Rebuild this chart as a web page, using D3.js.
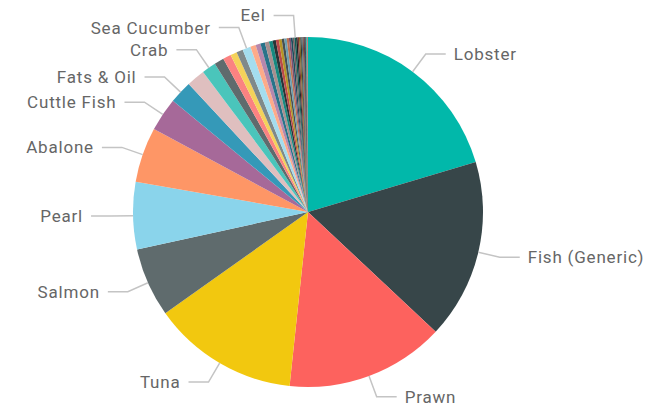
<!DOCTYPE html>
<html lang="en">
  <head>
    <meta charset="UTF-8" />
    <title>Seafood by Category – Pie</title>
    <script src="https://d3js.org/d3.v7.min.js"></script>
    <style>
      body {
        margin: 0;
        background: #fff;
      }
      svg {
        display: block;
      }
      .label {
        font-family: Roboto, sans-serif;
        font-size: 17px;
        letter-spacing: 0.8px;
        fill: #666;
      }
    </style>
  </head>
  <body>
    <svg width="648" height="407"></svg>

    <script>
      // categories in drawing order (clockwise from 12 o'clock); "" = no label shown
      const categories = [
        'Lobster', 'Fish (Generic)', 'Prawn', 'Tuna', 'Salmon', 'Pearl',
        'Abalone', 'Cuttle Fish', 'Fats & Oil', '', 'Crab', '', '', '', '',
        'Sea Cucumber', '', '', '', '', '', '', '', '', '', '', '', '', '', '',
        'Eel', '', '', '', '', '', '', '', '', '', '', '', '',
      ];
      // share of total, %
      const shares = [
        20.4, 16.6, 14.7, 13.5, 6.4, 6.2, 5.1, 3.1, 2.1, 1.7, 1.3, 0.9, 0.75,
        0.6, 0.6, 0.75, 0.5, 0.45, 0.42, 0.38, 0.34, 0.3, 0.28, 0.26, 0.24,
        0.22, 0.2, 0.18, 0.17, 0.16, 0.15, 0.14, 0.13, 0.12, 0.11, 0.1, 0.1,
        0.09, 0.08, 0.07, 0.06, 0.05, 0.04,
      ];
      const palette = [
        '#01B8AA', '#374649', '#FD625E', '#F2C80F', '#5F6B6D', '#8AD4EB',
        '#FE9666', '#A66999', '#3599B8', '#DFBFBF', '#4AC5BB', '#5F6B6D',
        '#FB8281', '#F4D25A', '#7F898A', '#A4DDEE', '#FDAB89', '#B687AC',
        '#28738A', '#A78F8F', '#168980', '#293537', '#BB4A4A', '#B59525',
        '#475052', '#6A9FB0', '#BD7150', '#7B4F71', '#1B4D5C', '#706060',
        '#0F5C55', '#1C2325', '#7D3231', '#796419', '#303637', '#476A75',
        '#7E4B36', '#52354C', '#0D262E', '#544848',
      ];

      const data = categories.map((c, i) => ({ name: c, value: shares[i], i }));

      const cx = 308,
        cy = 212,
        radius = 175;

      const svg = d3.select('svg');
      const g = svg.append('g').attr('transform', `translate(${cx},${cy})`);

      const pie = d3.pie().sort(null).value((d) => d.value);
      const arcs = pie(data);

      const arc = d3.arc().innerRadius(0).outerRadius(radius);
      const edge = d3.arc().innerRadius(radius).outerRadius(radius);
      const elbow = d3.arc().innerRadius(197).outerRadius(197);

      const color = d3
        .scaleOrdinal()
        .domain(d3.range(data.length))
        .range(palette);

      g.selectAll('path.slice')
        .data(arcs)
        .join('path')
        .attr('class', 'slice')
        .attr('d', arc)
        .attr('fill', (d) => color(d.data.i));

      // labels with leader lines
      const labelled = arcs.filter((d) => d.data.name);
      const side = (d) => ((d.startAngle + d.endAngle) / 2 < Math.PI ? 1 : -1);

      g.selectAll('polyline')
        .data(labelled)
        .join('polyline')
        .attr('fill', 'none')
        .attr('stroke', '#c4c4c4')
        .attr('stroke-width', 1.5)
        .attr('points', (d) => {
          const a = edge.centroid(d);
          const b = elbow.centroid(d);
          const c = [b[0] + side(d) * 20, b[1]];
          return [a, b, c];
        });

      g.selectAll('text.label')
        .data(labelled)
        .join('text')
        .attr('class', 'label')
        .attr('x', (d) => elbow.centroid(d)[0] + side(d) * 28)
        .attr('y', (d) => elbow.centroid(d)[1])
        .attr('dy', '0.35em')
        .attr('text-anchor', (d) => (side(d) > 0 ? 'start' : 'end'))
        .text((d) => d.data.name);
    </script>
  </body>
</html>
